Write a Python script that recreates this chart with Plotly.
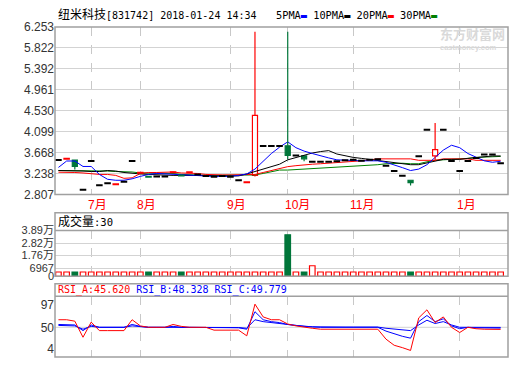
import plotly.graph_objects as go

W, H = 520, 365
def px(x): return x / W
def py(y): return 1 - y / H

# ---------------- data ----------------
bars_idx = list(range(55))

opens = [3.516, 3.54, 3.516, 2.905, 3.496, 2.998, 3.037, 3.017, 3.069, 3.496,
         3.254, 3.17, 3.18, 3.18, 3.266, 3.20, 3.266, 3.22, 3.19, 3.17,
         3.19, 3.17, 3.10, 3.057, 3.20, 3.805, 3.805, 3.805, 3.81, 3.608,
         3.60, 3.48, 3.48, 3.48, 3.49, 3.51, 3.52, 3.50, 3.52, 3.53,
         3.397, 3.293, 3.195, 3.10, 3.594, 4.14, 3.60, 4.14, 3.496, 3.293,
         3.496, 3.56, 3.628, 3.628, 3.45]
closes = [3.516, 3.54, 3.384, 2.905, 3.496, 2.998, 3.037, 3.017, 3.069, 3.496,
          3.254, 3.17, 3.18, 3.18, 3.266, 3.20, 3.266, 3.22, 3.19, 3.17,
          3.19, 3.17, 3.10, 3.057, 4.435, 3.805, 3.805, 3.805, 3.61, 3.608,
          3.54, 3.48, 3.48, 3.48, 3.49, 3.51, 3.52, 3.50, 3.52, 3.53,
          3.397, 3.293, 3.195, 3.05, 3.594, 4.14, 3.73, 4.14, 3.496, 3.293,
          3.496, 3.56, 3.628, 3.628, 3.45]
highs = [3.516, 3.54, 3.516, 2.905, 3.496, 2.998, 3.037, 3.017, 3.069, 3.496,
         3.254, 3.17, 3.18, 3.18, 3.266, 3.20, 3.266, 3.22, 3.19, 3.17,
         3.19, 3.17, 3.10, 3.057, 6.154, 3.805, 3.805, 3.805, 6.154, 3.608,
         3.60, 3.48, 3.48, 3.48, 3.49, 3.51, 3.52, 3.50, 3.52, 3.53,
         3.397, 3.293, 3.195, 3.10, 3.594, 4.14, 4.28, 4.14, 3.496, 3.293,
         3.496, 3.56, 3.628, 3.628, 3.45]
lows = [3.516, 3.54, 3.319, 2.905, 3.496, 2.998, 3.037, 3.017, 3.069, 3.496,
        3.254, 3.17, 3.18, 3.18, 3.266, 3.20, 3.266, 3.22, 3.19, 3.17,
        3.19, 3.17, 3.10, 3.057, 3.18, 3.805, 3.805, 3.805, 3.53, 3.608,
        3.49, 3.48, 3.48, 3.48, 3.49, 3.51, 3.52, 3.50, 3.52, 3.53,
        3.397, 3.293, 3.195, 2.99, 3.594, 4.14, 3.50, 4.14, 3.496, 3.293,
        3.496, 3.56, 3.628, 3.628, 3.45]
candle_kind = ['k', 'r', 'g', 'k', 'k', 'k', 'k', 'r', 'k', 'k',
               'r', 'g', 'k', 'k', 'r', 'g', 'r', 'k', 'k', 'k',
               'k', 'k', 'k', 'r', 'r', 'k', 'k', 'k', 'g', 'k',
               'g', 'k', 'k', 'k', 'k', 'k', 'k', 'k', 'k', 'k',
               'k', 'k', 'k', 'g', 'k', 'k', 'r', 'k', 'k', 'k',
               'k', 'k', 'k', 'k', 'k']

ma5 = [3.364, 3.496, 3.496, 3.384, 3.384, 3.22, 3.12, 3.10, 3.10, 3.13,
       3.18, 3.22, 3.24, 3.23, 3.22, 3.21, 3.20, 3.20, 3.19, 3.18,
       3.18, 3.18, 3.20, 3.23, 3.33, 3.50, 3.65, 3.78, 3.89, 3.77,
       3.70, 3.65, 3.60, 3.56, 3.52, 3.51, 3.50, 3.50, 3.50, 3.50,
       3.47, 3.42, 3.36, 3.30, 3.33, 3.42, 3.56, 3.72, 3.82, 3.77,
       3.65, 3.57, 3.50, 3.47, 3.49]
ma10 = [3.30, 3.30, 3.29, 3.29, 3.28, 3.28, 3.30, 3.29, 3.26, 3.24,
        3.23, 3.22, 3.21, 3.20, 3.20, 3.20, 3.20, 3.21, 3.20, 3.19,
        3.19, 3.18, 3.19, 3.23, 3.28, 3.33, 3.39, 3.43, 3.52, 3.57,
        3.62, 3.66, 3.69, 3.71, 3.64, 3.60, 3.57, 3.55, 3.53, 3.51,
        3.49, 3.46, 3.44, 3.42, 3.42, 3.46, 3.50, 3.53, 3.53, 3.53,
        3.55, 3.57, 3.58, 3.60, 3.60]
ma20 = [3.266, 3.266, 3.26, 3.25, 3.23, 3.22, 3.22, 3.20, 3.14, 3.15,
        3.24, 3.26, 3.26, 3.27, 3.27, 3.25, 3.25, 3.24, 3.22, 3.21,
        3.21, 3.21, 3.21, 3.21, 3.22, 3.26, 3.30, 3.34, 3.38, 3.40,
        3.42, 3.43, 3.44, 3.45, 3.46, 3.47, 3.48, 3.50, 3.52, 3.54,
        3.54, 3.54, 3.54, 3.54, 3.51, 3.51, 3.51, 3.54, 3.54, 3.54,
        3.54, 3.51, 3.51, 3.51, 3.51]
ma30 = [3.30, 3.30, 3.30, 3.30, 3.30, 3.30, 3.29, 3.28, 3.28, 3.27,
        3.25, 3.25, 3.25, 3.24, 3.24, 3.22, 3.21, 3.21, 3.20, 3.20,
        3.20, 3.20, 3.20, 3.20, 3.21, 3.24, 3.28, 3.31, 3.31, 3.32,
        3.33, 3.33, 3.35, 3.36, 3.36, 3.37, 3.38, 3.40, 3.40, 3.42,
        3.44, 3.45, 3.45, 3.44, 3.44, 3.48, 3.51, 3.52, 3.53, 3.53,
        3.55, 3.57, 3.58, 3.59, 3.59]

volumes = [3600, 3600, 3600, 3600, 3600, 3600, 3600, 3600, 3600, 3600,
           3600, 3600, 3600, 3600, 3600, 3600, 3600, 3600, 3600, 3600,
           3600, 3600, 3600, 3600, 3600, 3600, 3600, 3600, 35100, 3600,
           3600, 8900, 3600, 3600, 3600, 3600, 3600, 3600, 3600, 3600,
           3600, 3600, 3600, 3600, 3600, 3600, 3600, 3600, 3600, 3600,
           3600, 3600, 3600, 3600, 3600]
vol_kind = ['r', 'r', 'g', 'r', 'r', 'r', 'r', 'r', 'r', 'r',
            'r', 'g', 'r', 'r', 'r', 'g', 'r', 'r', 'r', 'r',
            'r', 'r', 'r', 'r', 'r', 'r', 'r', 'r', 'g', 'r',
            'g', 'r', 'r', 'r', 'r', 'r', 'r', 'r', 'r', 'r',
            'r', 'r', 'r', 'g', 'r', 'r', 'r', 'r', 'r', 'r',
            'r', 'r', 'r', 'r', 'r']

rsi_a = [66, 66, 63, 29, 61, 43, 43, 43, 43, 66,
         53, 50, 50, 50, 56, 52, 50, 50, 50, 44,
         44, 44, 44, 32, 99, 72, 66, 66, 57, 53,
         50, 48, 46, 46, 46, 46, 46, 46, 46, 46,
         25, 12, 7, 1, 70, 87, 60, 72, 50, 39,
         50, 47, 46, 46, 45.62]
rsi_b = [56, 56, 55, 43, 55, 50, 50, 50, 50, 56,
         52, 50, 50, 50, 52, 50, 50, 50, 50, 49,
         49, 49, 49, 46, 83, 66, 62, 60, 56, 54,
         52, 51, 50, 50, 50, 50, 50, 50, 50, 50,
         42, 36, 31, 27, 62, 75, 62, 68, 53, 47,
         50, 49, 48.5, 48.4, 48.328]
rsi_c = [54, 54, 53, 46, 52, 50, 50, 50, 50, 53,
         51, 50, 50, 50, 51, 50, 50, 50, 50, 49.5,
         49.5, 49.5, 49.5, 48, 66, 62, 60, 58, 55, 53,
         52, 51, 50.5, 50.5, 50.5, 50.5, 50.5, 50.5, 50.5, 50.5,
         48, 46, 44.5, 43, 55, 65, 58, 62, 55, 50,
         50, 50, 49.9, 49.8, 49.779]

month_pos = [4, 10, 21, 28, 36, 49]
month_labels = ["7月", "8月", "9月", "10月", "11月", "1月"]
price_ticks = [2.807, 3.238, 3.668, 4.099, 4.530, 4.961, 5.392, 5.822, 6.253]
vol_ticks = [0, 6967, 17600, 28200, 38900]
vol_tick_text = ["0", "6967", "1.76万", "2.82万", "3.89万"]
rsi_ticks = [4, 50, 97]

# ---------------- styles ----------------
RED, GREEN, BLACK, BLUE = "#ff0000", "#00763a", "#000000", "#0000ff"
MA_GREEN = "#008000"
COL = {'r': RED, 'g': GREEN, 'k': BLACK}
BORDER = "#a0a0a0"
GRID = "#d3d3d3"
VGRID = "#c8c8c8"
TICKFONT = dict(family="Liberation Sans, Arial, Noto Sans CJK SC", size=12, color="#333333")
MONO = "DejaVu Sans Mono, Noto Sans CJK SC"

fig = go.Figure()

# ---- moving averages ----
for vals, color in [(ma30, MA_GREEN), (ma20, RED), (ma10, BLACK), (ma5, BLUE)]:
    fig.add_trace(go.Scatter(x=bars_idx, y=vals, mode="lines",
                             line=dict(color=color, width=1), xaxis="x", yaxis="y",
                             showlegend=False, hoverinfo="skip"))

# ---- candles ----
body = {k: dict(x=[], base=[], y=[]) for k in "rgk"}
wick = {k: dict(x=[], y=[]) for k in "rgk"}
dash = {k: dict(x=[], y=[]) for k in "rgk"}
for i in bars_idx:
    o, h, l, c, k = opens[i], highs[i], lows[i], closes[i], candle_kind[i]
    top, bot = max(o, c), min(o, c)
    if top > bot:
        body[k]["x"].append(i)
        body[k]["base"].append(bot)
        body[k]["y"].append(top - bot)
    else:
        dash[k]["x"] += [i - 0.4, i + 0.4, None]
        dash[k]["y"] += [c, c, None]
    if h > top:
        wick[k]["x"] += [i, i, None]
        wick[k]["y"] += [top, h, None]
    if l < bot:
        wick[k]["x"] += [i, i, None]
        wick[k]["y"] += [l, bot, None]

for k in "rg":
    if body[k]["x"]:
        fig.add_trace(go.Bar(x=body[k]["x"], y=body[k]["y"], base=body[k]["base"],
                             width=0.62, xaxis="x", yaxis="y",
                             marker=dict(color="white" if k == "r" else COL[k],
                                         line=dict(color=COL[k], width=1.2)),
                             showlegend=False, hoverinfo="skip"))
for k in "rgk":
    if wick[k]["x"]:
        fig.add_trace(go.Scatter(x=wick[k]["x"], y=wick[k]["y"], mode="lines",
                                 line=dict(color=COL[k], width=1.2), xaxis="x", yaxis="y",
                                 showlegend=False, hoverinfo="skip"))
    if dash[k]["x"]:
        fig.add_trace(go.Scatter(x=dash[k]["x"], y=dash[k]["y"], mode="lines",
                                 line=dict(color=COL[k], width=2), xaxis="x", yaxis="y",
                                 showlegend=False, hoverinfo="skip"))

# ---- volume ----
for k in "rg":
    xs = [i for i in bars_idx if vol_kind[i] == k]
    ys = [volumes[i] for i in xs]
    fig.add_trace(go.Bar(x=xs, y=ys, width=0.68, xaxis="x2", yaxis="y2",
                         marker=dict(color="white" if k == "r" else GREEN,
                                     line=dict(color=RED if k == "r" else GREEN, width=1.2)),
                         showlegend=False, hoverinfo="skip"))

# ---- RSI ----
for vals, color in [(rsi_c, BLUE), (rsi_b, BLUE), (rsi_a, RED)]:
    fig.add_trace(go.Scatter(x=bars_idx, y=vals, mode="lines",
                             line=dict(color=color, width=1), xaxis="x3", yaxis="y3",
                             showlegend=False, hoverinfo="skip"))

xdom = [px(55), px(508)]
xr = [-0.42, 54.9]
common_x = dict(domain=xdom, range=xr, tickvals=month_pos, showgrid=True, griddash="dash",
                gridcolor=VGRID, gridwidth=1, zeroline=False, showline=False, ticks="",
                showticklabels=False, fixedrange=True)

fig.update_layout(
    width=W, height=H, margin=dict(l=0, r=0, t=0, b=0),
    paper_bgcolor="white", plot_bgcolor="white",
    barmode="overlay", showlegend=False,
    font=dict(family="Liberation Sans, Arial, Noto Sans CJK SC", size=12, color="#000"),
    xaxis=dict(**common_x, anchor="y"),
    xaxis2=dict(**common_x, anchor="y2", matches="x"),
    xaxis3=dict(**common_x, anchor="y3", matches="x"),
    yaxis=dict(domain=[py(195), py(20.7)], range=[price_ticks[0], price_ticks[-1]],
               tickvals=price_ticks, ticktext=[f"{v:.3f}" for v in price_ticks],
               showgrid=True, gridcolor=GRID, zeroline=False, showline=False, ticks="",
               tickfont=TICKFONT, anchor="x", fixedrange=True),
    yaxis2=dict(domain=[py(280), py(232.3)], range=[0, 38900],
                tickvals=vol_ticks, ticktext=vol_tick_text,
                showgrid=True, gridcolor=GRID, zeroline=False, showline=False, ticks="",
                tickfont=dict(TICKFONT, size=11), anchor="x2", fixedrange=True),
    yaxis3=dict(domain=[py(364), py(300.7)], range=[-12.9, 115.9],
                tickvals=rsi_ticks, ticktext=[str(v) for v in rsi_ticks],
                showgrid=False, zeroline=False, showline=False, ticks="",
                tickfont=TICKFONT, anchor="x3", fixedrange=True),
)

shapes = []
shapes.append(dict(type="rect", xref="paper", yref="paper", x0=px(55), x1=px(508),
                   y0=py(195), y1=py(20.7), line=dict(color=BORDER, width=1.5)))
shapes.append(dict(type="rect", xref="paper", yref="paper", x0=px(55), x1=px(508),
                   y0=py(280), y1=py(214), line=dict(color=BORDER, width=1.5)))
shapes.append(dict(type="line", xref="paper", yref="paper", x0=px(55), x1=px(508),
                   y0=py(232.3), y1=py(232.3), line=dict(color=BORDER, width=1.5)))
shapes.append(dict(type="rect", xref="paper", yref="paper", x0=px(55), x1=px(508),
                   y0=py(364), y1=py(287.7), line=dict(color=BORDER, width=1.5)))
shapes.append(dict(type="line", xref="paper", yref="paper", x0=px(55), x1=px(508),
                   y0=py(300.7), y1=py(300.7), line=dict(color=BORDER, width=1.5)))
shapes.append(dict(type="line", xref="paper", yref="y3", x0=px(55), x1=px(508),
                   y0=rsi_ticks[1], y1=rsi_ticks[1], line=dict(color=GRID, width=1), layer="below"))
fig.update_layout(shapes=shapes)

ann = []
# month labels (left-aligned just before each month gridline)
for pos, lab in zip(month_pos, month_labels):
    ann.append(dict(xref="x", yref="paper", x=pos, y=py(206), xanchor="left", yanchor="middle",
                    xshift=-5, showarrow=False, text=lab,
                    font=dict(family="Liberation Sans, Noto Sans CJK SC", size=12, color=RED)))
ann.append(dict(xref="paper", yref="paper", x=px(56), y=py(8), xanchor="left", yanchor="middle",
                showarrow=False,
                text='<span style="font-size:12px">纽米科技</span>[831742] 2018-01-24 14:34',
                font=dict(family=MONO, size=10, color="#000")))
ann.append(dict(xref="paper", yref="paper", x=px(274), y=py(8), xanchor="left", yanchor="middle",
                showarrow=False,
                text=('5PMA<span style="color:#0000ff">▬</span> '
                      '10PMA<span style="color:#000000">▬</span> '
                      '20PMA<span style="color:#ff0000">▬</span> '
                      '30PMA<span style="color:#008000">▬</span>'),
                font=dict(family=MONO, size=10.3, color="#000")))
ann.append(dict(xref="paper", yref="paper", x=px(56), y=py(223), xanchor="left", yanchor="middle",
                showarrow=False,
                text='<span style="font-size:12px">成交量</span>:30',
                font=dict(family=MONO, size=10.5, color="#000")))
ann.append(dict(xref="paper", yref="paper", x=px(56), y=py(294), xanchor="left", yanchor="middle",
                showarrow=False,
                text=('<span style="color:#ff0000">RSI_A:45.620</span> '
                      '<span style="color:#0000ff">RSI_B:48.328</span> '
                      '<span style="color:#0000ff">RSI_C:49.779</span>'),
                font=dict(family=MONO, size=10, color="#000")))
# watermark
ann.append(dict(xref="paper", yref="paper", x=px(472), y=py(27.5), xanchor="center", yanchor="middle",
                showarrow=False, text="<b>东方财富网</b>",
                font=dict(family="Noto Sans CJK SC", size=13, color="#d9d9d9")))
ann.append(dict(xref="paper", yref="paper", x=px(468), y=py(42), xanchor="center", yanchor="middle",
                showarrow=False, text="<b>eastmoney.com</b>",
                font=dict(family="Liberation Sans", size=7.5, color="#d9d9d9")))
fig.update_layout(annotations=ann)

fig.write_html("out.html", config={"displayModeBar": False, "staticPlot": True})
